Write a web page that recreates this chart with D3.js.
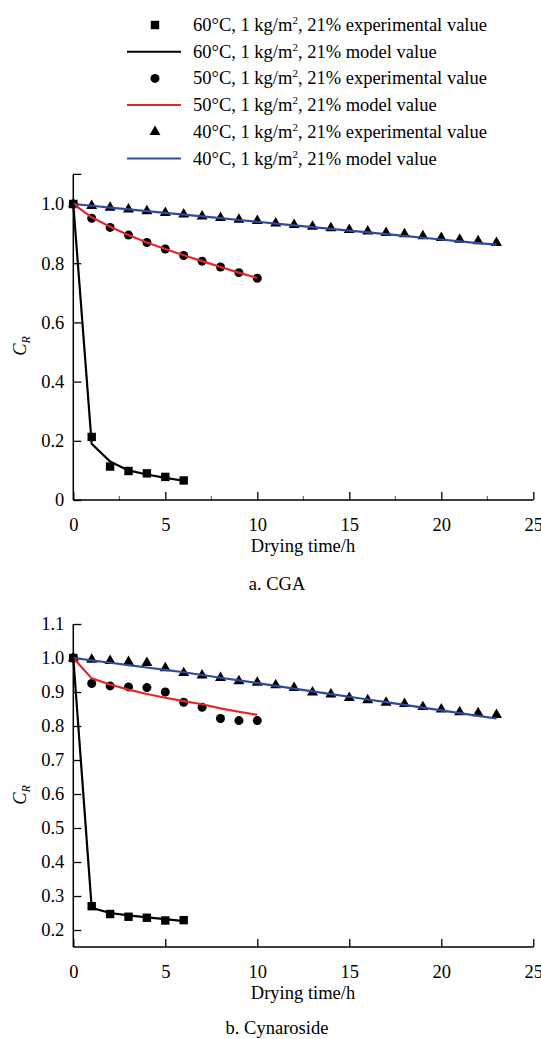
<!DOCTYPE html>
<html>
<head>
<meta charset="utf-8">
<script src="https://cdn.jsdelivr.net/npm/d3@7"></script>
<style>
  body { margin: 0; background: #fff; }
  svg text { font-family: "Liberation Serif", Tinos, "Times New Roman", Times, "DejaVu Serif", serif !important; }
</style>
</head>
<body>
<svg id="chart" width="541" height="1039"></svg>
<script>
// drying time (h)
var hours60 = [0, 1, 2, 3, 4, 5, 6];
var hours50 = [0, 1, 2, 3, 4, 5, 6, 7, 8, 9, 10];
var hours40 = [0, 1, 2, 3, 4, 5, 6, 7, 8, 9, 10, 11, 12, 13, 14, 15, 16, 17, 18, 19, 20, 21, 22, 23];

// a. CGA
var cgaExp60 = [1.0, 0.213, 0.113, 0.098, 0.090, 0.078, 0.066];
var cgaMod60 = [1.0, 0.19, 0.13, 0.10, 0.086, 0.075, 0.065];
var cgaExp50 = [1.0, 0.952, 0.921, 0.895, 0.870, 0.848, 0.826, 0.807, 0.787, 0.768, 0.749];
var cgaMod50 = [1.0, 0.955, 0.923, 0.895, 0.870, 0.848, 0.827, 0.807, 0.787, 0.768, 0.750];
var cgaExp40 = [1.0, 0.994, 0.988, 0.982, 0.976, 0.970, 0.965, 0.958, 0.953, 0.947, 0.943, 0.935, 0.930, 0.924, 0.919, 0.913, 0.908, 0.903, 0.898, 0.892, 0.886, 0.880, 0.875, 0.869];
var cgaMod40 = [1.0, 0.994, 0.988, 0.982, 0.976, 0.970, 0.964, 0.958, 0.952, 0.946, 0.940, 0.934, 0.928, 0.922, 0.916, 0.910, 0.904, 0.898, 0.892, 0.886, 0.880, 0.874, 0.868, 0.863];

// b. Cynaroside
var cynExp60 = [1.0, 0.27, 0.247, 0.239, 0.236, 0.228, 0.229];
var cynMod60 = [1.0, 0.265, 0.25, 0.243, 0.237, 0.232, 0.226];
var cynExp50 = [1.0, 0.925, 0.918, 0.915, 0.913, 0.900, 0.870, 0.855, 0.822, 0.816, 0.816];
var cynMod50 = [1.0, 0.940, 0.922, 0.907, 0.894, 0.883, 0.873, 0.864, 0.852, 0.842, 0.833];
var cynExp40 = [1.0, 0.995, 0.992, 0.989, 0.986, 0.970, 0.956, 0.949, 0.942, 0.932, 0.928, 0.920, 0.912, 0.899, 0.893, 0.883, 0.876, 0.869, 0.865, 0.856, 0.849, 0.841, 0.838, 0.833];
var cynMod40 = [1.0, 0.993, 0.986, 0.979, 0.972, 0.965, 0.958, 0.950, 0.942, 0.934, 0.926, 0.918, 0.910, 0.902, 0.894, 0.886, 0.878, 0.870, 0.862, 0.854, 0.846, 0.838, 0.830, 0.822];

var legendLabels = ["60°C, 1 kg/m|, 21% experimental value", "60°C, 1 kg/m|, 21% model value",
                    "50°C, 1 kg/m|, 21% experimental value", "50°C, 1 kg/m|, 21% model value",
                    "40°C, 1 kg/m|, 21% experimental value", "40°C, 1 kg/m|, 21% model value"];
var legendKinds = ["square", "line60", "circle", "line50", "triangle", "line40"];

var xTicks = [0, 5, 10, 15, 20, 25];
var yTicksA = [0, 0.2, 0.4, 0.6, 0.8, 1.0];
var yTicksB = [0.2, 0.3, 0.4, 0.5, 0.6, 0.7, 0.8, 0.9, 1.0, 1.1];

var RED = "#e3262b", BLUE = "#2e4a9f";
var svg = d3.select("#chart");
var FS = 18.5;

function marker(g, kind, cx, cy) {
  if (kind == "square") {
    g.append("rect").attr("x", cx - 4.2).attr("y", cy - 4.2).attr("width", 8.4).attr("height", 8.4).attr("fill", "#000");
  } else if (kind == "circle") {
    g.append("circle").attr("cx", cx).attr("cy", cy).attr("r", 4.5).attr("fill", "#000");
  } else {
    g.append("path").attr("d", d3.symbol().type(d3.symbolTriangle).size(52)()).attr("transform", `translate(${cx},${cy})`).attr("fill", "#000");
  }
}

// legend
var leg = svg.append("g");
legendLabels.forEach(function(lab, i) {
  var cy = 25 + i * 26.7;
  var k = legendKinds[i];
  if (k.indexOf("line") == 0) {
    var col = k == "line60" ? "#000" : (k == "line50" ? RED : BLUE);
    leg.append("line").attr("x1", 127).attr("x2", 181).attr("y1", cy).attr("y2", cy).attr("stroke", col).attr("stroke-width", 2);
  } else {
    marker(leg, k, 155, cy);
  }
  var parts = lab.split("|");
  var t = leg.append("text").attr("x", 193).attr("y", cy + 6).attr("font-size", FS);
  t.append("tspan").text(parts[0]);
  t.append("tspan").attr("dy", -7).attr("font-size", 11).text("2");
  t.append("tspan").attr("dy", 7).text(parts[1]);
});

function drawPanel(cfg) {
  var x = d3.scaleLinear().domain([0, 25]).range([73.3, 533.3]);
  var y = d3.scaleLinear().domain(cfg.yDomain).range(cfg.yRange);
  var g = svg.append("g");

  // axes
  var yAxis = d3.axisLeft(y).tickValues(cfg.yTicks).tickSizeInner(-8).tickSizeOuter(0).tickPadding(8)
    .tickFormat(function(d) { return d == 0 ? "0" : d3.format(".1f")(d); });
  var ya = g.append("g").attr("transform", `translate(${x(0)},0)`).call(yAxis);
  ya.select(".domain").remove();
  ya.selectAll("text").attr("font-size", FS).attr("dx", -1);
  ya.selectAll("line").attr("stroke-width", 1.3);
  if (cfg.topTick) {
    g.append("line").attr("x1", x(0)).attr("x2", x(0) + 8).attr("y1", y(cfg.yDomain[1])).attr("y2", y(cfg.yDomain[1])).attr("stroke", "#000").attr("stroke-width", 1.3);
  }
  g.append("line").attr("x1", x(0)).attr("x2", x(0)).attr("y1", y(cfg.yDomain[0])).attr("y2", y(cfg.yDomain[1]))
    .attr("stroke", "#000").attr("stroke-width", 1.5);

  var xAxis = d3.axisBottom(x).tickValues(xTicks).tickSizeInner(-8).tickSizeOuter(0).tickPadding(18);
  var xa = g.append("g").attr("transform", `translate(0,${y(cfg.yDomain[0])})`).call(xAxis);
  xa.select(".domain").remove();
  xa.selectAll("text").attr("font-size", FS);
  xa.selectAll("line").attr("stroke-width", 1.3);
  if (cfg.minor) {
    [2.5, 7.5, 12.5, 17.5, 22.5].forEach(function(v) {
      g.append("line").attr("x1", x(v)).attr("x2", x(v)).attr("y1", y(cfg.yDomain[0])).attr("y2", y(cfg.yDomain[0]) - 4).attr("stroke", "#555").attr("stroke-width", 1);
    });
  }
  g.append("line").attr("x1", x(0)).attr("x2", x(25)).attr("y1", y(cfg.yDomain[0])).attr("y2", y(cfg.yDomain[0]))
    .attr("stroke", "#000").attr("stroke-width", 1.5);

  // axis titles
  g.append("text").attr("x", 303).attr("y", cfg.titleY).attr("text-anchor", "middle").attr("font-size", FS).text("Drying time/h");
  g.append("text").attr("x", 277).attr("y", cfg.captionY).attr("text-anchor", "middle").attr("font-size", FS).text(cfg.caption);
  var yl = g.append("text").attr("transform", `translate(26,${cfg.ylabelY}) rotate(-90)`).attr("text-anchor", "middle").attr("font-size", FS);
  yl.append("tspan").attr("font-style", "italic").text("C");
  yl.append("tspan").attr("font-style", "italic").attr("font-size", 12).attr("dy", 4).text("R");

  // model lines
  var line = d3.line().x(function(d) { return x(d[0]); }).y(function(d) { return y(d[1]); });
  var series = [
    {h: hours40, m: cfg.mod40, e: cfg.exp40, col: BLUE, kind: "triangle"},
    {h: hours50, m: cfg.mod50, e: cfg.exp50, col: RED, kind: "circle"},
    {h: hours60, m: cfg.mod60, e: cfg.exp60, col: "#000", kind: "square"}
  ];
  series.forEach(function(s) {
    s.e.forEach(function(v, i) { marker(g, s.kind, x(s.h[i]), y(v)); });
  });
  series.forEach(function(s) {
    g.append("path").datum(d3.zip(s.h, s.m)).attr("d", line).attr("fill", "none")
      .attr("stroke", s.col).attr("stroke-width", 2.2);
  });
}

drawPanel({yDomain: [0, 1.1], yRange: [500, 174.4], yTicks: yTicksA, topTick: true, minor: true,
  titleY: 552, captionY: 590, caption: "a. CGA", ylabelY: 346,
  exp60: cgaExp60, mod60: cgaMod60, exp50: cgaExp50, mod50: cgaMod50, exp40: cgaExp40, mod40: cgaMod40});

drawPanel({yDomain: [0.15, 1.1], yRange: [947, 624], yTicks: yTicksB, topTick: false, minor: false,
  titleY: 999, captionY: 1034, caption: "b. Cynaroside", ylabelY: 795,
  exp60: cynExp60, mod60: cynMod60, exp50: cynExp50, mod50: cynMod50, exp40: cynExp40, mod40: cynMod40});
</script>
</body>
</html>
